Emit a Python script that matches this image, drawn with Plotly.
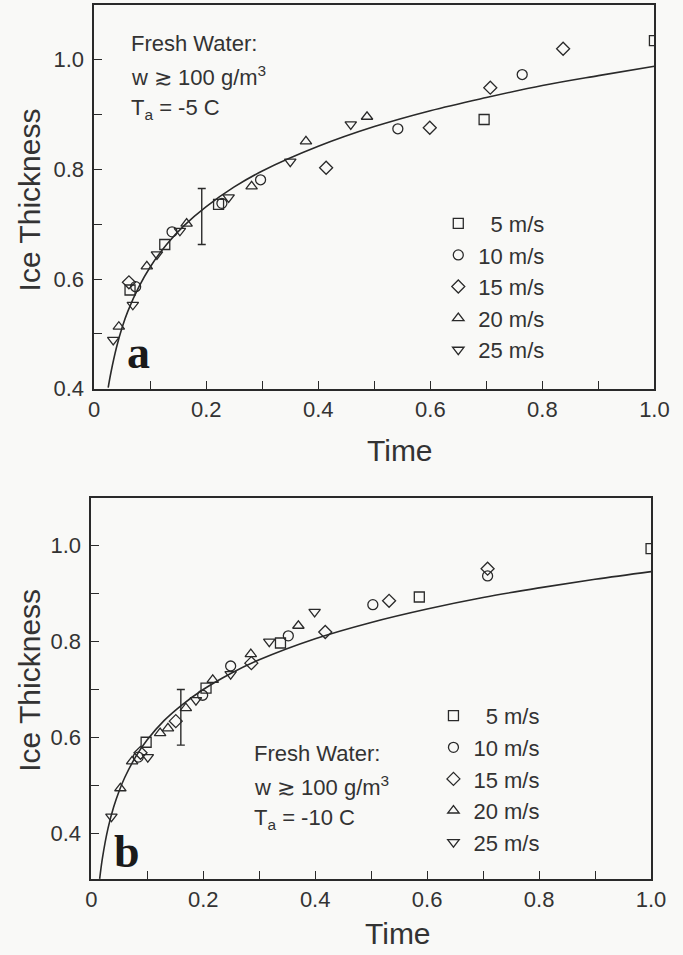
import plotly.graph_objects as go

# ---------------- Panel a (T_a = -5 C) ----------------
a_t_5 = [0.064, 0.126, 0.222, 0.696, 1.000]
a_v_5 = [0.580, 0.663, 0.736, 0.891, 1.035]
a_t_10 = [0.074, 0.139, 0.228, 0.297, 0.542, 0.764]
a_v_10 = [0.586, 0.686, 0.738, 0.781, 0.874, 0.973]
a_t_15 = [0.062, 0.414, 0.599, 0.707, 0.837]
a_v_15 = [0.594, 0.803, 0.876, 0.949, 1.020]
a_t_20 = [0.044, 0.094, 0.165, 0.281, 0.378, 0.487]
a_v_20 = [0.513, 0.623, 0.701, 0.769, 0.851, 0.896]
a_t_25 = [0.034, 0.069, 0.112, 0.153, 0.240, 0.350, 0.458]
a_v_25 = [0.489, 0.553, 0.645, 0.688, 0.749, 0.814, 0.882]

a_curve_t = [0.025, 0.03, 0.04, 0.05, 0.06, 0.08, 0.10, 0.13, 0.16, 0.20, 0.25,
             0.30, 0.40, 0.50, 0.60, 0.70, 0.80, 0.90, 1.00]
a_curve_v = [0.402, 0.430, 0.476, 0.512, 0.541, 0.586, 0.622, 0.664, 0.697, 0.732, 0.768,
             0.797, 0.842, 0.878, 0.907, 0.931, 0.953, 0.971, 0.988]

a_err_t = [0.192]
a_err_v = [0.714]
a_err_half = [0.051]

# ---------------- Panel b (T_a = -10 C) ----------------
b_t_5 = [0.098, 0.205, 0.338, 0.586, 1.000]
b_v_5 = [0.590, 0.703, 0.797, 0.893, 0.994]
b_t_10 = [0.084, 0.199, 0.249, 0.352, 0.503, 0.708]
b_v_10 = [0.559, 0.688, 0.749, 0.812, 0.877, 0.937]
b_t_15 = [0.088, 0.151, 0.286, 0.418, 0.532, 0.708]
b_v_15 = [0.568, 0.634, 0.755, 0.820, 0.885, 0.952]
b_t_20 = [0.052, 0.073, 0.123, 0.137, 0.169, 0.217, 0.285, 0.370]
b_v_20 = [0.494, 0.550, 0.609, 0.619, 0.661, 0.720, 0.774, 0.833]
b_t_25 = [0.036, 0.101, 0.187, 0.249, 0.318, 0.399]
b_v_25 = [0.435, 0.559, 0.678, 0.732, 0.800, 0.862]

b_curve_t = [0.015, 0.02, 0.03, 0.04, 0.05, 0.06, 0.08, 0.10, 0.13, 0.16, 0.20, 0.25,
             0.30, 0.40, 0.50, 0.60, 0.70, 0.80, 0.90, 1.00]
b_curve_v = [0.305, 0.349, 0.411, 0.455, 0.489, 0.517, 0.561, 0.595, 0.635, 0.666, 0.700, 0.734,
             0.762, 0.806, 0.840, 0.868, 0.892, 0.912, 0.930, 0.946]

b_err_t = [0.160]
b_err_v = [0.642]
b_err_half = [0.058]

series_names = ["\u00a0\u00a05 m/s", "10 m/s", "15 m/s", "20 m/s", "25 m/s"]
series_symbols = ["square-open", "circle-open", "diamond-open", "triangle-up-open", "triangle-down-open"]

x_tickvals = [0, 0.2, 0.4, 0.6, 0.8, 1.0]
x_ticktext = ["0", "0.2", "0.4", "0.6", "0.8", "1.0"]
y_tickvals = [0.4, 0.6, 0.8, 1.0]
y_ticktext = ["0.4", "0.6", "0.8", "1.0"]

INK = "#2a2a2a"
FONT = "Liberation Sans"
BG = "#f9f9f7"

fig = go.Figure()

panels = [
    ("x", "y", "legend",
     [(a_t_5, a_v_5), (a_t_10, a_v_10), (a_t_15, a_v_15), (a_t_20, a_v_20), (a_t_25, a_v_25)],
     (a_curve_t, a_curve_v), (a_err_t, a_err_v, a_err_half)),
    ("x2", "y2", "legend2",
     [(b_t_5, b_v_5), (b_t_10, b_v_10), (b_t_15, b_v_15), (b_t_20, b_v_20), (b_t_25, b_v_25)],
     (b_curve_t, b_curve_v), (b_err_t, b_err_v, b_err_half)),
]

for xa, ya, lg, series, curve, err in panels:
    fig.add_trace(go.Scatter(x=curve[0], y=curve[1], mode="lines",
                             line=dict(color=INK, width=1.6, shape="spline"),
                             xaxis=xa, yaxis=ya, showlegend=False, hoverinfo="skip"))
    fig.add_trace(go.Scatter(x=err[0], y=err[1], mode="markers",
                             marker=dict(size=1, color="rgba(0,0,0,0)"),
                             error_y=dict(type="data", array=err[2], color=INK,
                                          thickness=1.4, width=4),
                             xaxis=xa, yaxis=ya, showlegend=False, hoverinfo="skip"))
    for (tt, vv), name, sym in zip(series, series_names, series_symbols):
        fig.add_trace(go.Scatter(x=tt, y=vv, mode="markers", name=name,
                                 marker=dict(symbol=sym, size=10, color=INK,
                                             line=dict(width=1.3, color=INK)),
                                 xaxis=xa, yaxis=ya, legend=lg))

axis_common = dict(showline=True, linecolor=INK, linewidth=1.5, mirror=True,
                   ticks="inside", ticklen=8, tickwidth=1.3, tickcolor=INK,
                   showgrid=False, zeroline=False,
                   tickfont=dict(family=FONT, size=22, color="#333"),
                   minor=dict(ticks="inside", ticklen=8, tickwidth=1.3, tickcolor=INK, dtick=0.1,
                              showgrid=False))

fig.update_layout(
    width=683, height=955,
    margin=dict(l=0, r=0, t=0, b=0),
    paper_bgcolor=BG, plot_bgcolor=BG,
    xaxis=dict(domain=[0.1332, 0.9795], range=[0, 1.0], anchor="y",
               tickvals=x_tickvals, ticktext=x_ticktext, ticklabelstandoff=0, **axis_common),
    yaxis=dict(domain=[0.5874, 0.9948], range=[0.4, 1.1], anchor="x",
               tickvals=y_tickvals, ticktext=y_ticktext, ticklabelstandoff=4, **axis_common),
    xaxis2=dict(domain=[0.1288, 0.9744], range=[0, 1.0], anchor="y2",
                tickvals=x_tickvals, ticktext=x_ticktext, ticklabelstandoff=0, **axis_common),
    yaxis2=dict(domain=[0.067, 0.4716], range=[0.305, 1.1], anchor="x2",
                tickvals=y_tickvals, ticktext=y_ticktext, ticklabelstandoff=4, **axis_common),
    legend=dict(x=0.653, y=0.785, xanchor="left", yanchor="top",
                bgcolor="rgba(0,0,0,0)", font=dict(family=FONT, size=22, color="#333"),
                tracegroupgap=0, itemwidth=30),
    legend2=dict(x=0.6457, y=0.2623, xanchor="left", yanchor="top",
                 bgcolor="rgba(0,0,0,0)", font=dict(family=FONT, size=22, color="#333"),
                 tracegroupgap=0, itemwidth=30),
)

def txt(text, x, y, size=22, xanchor="left", family=FONT, angle=0, color="#333"):
    fig.add_annotation(text=text, x=x, y=y, xref="paper", yref="paper",
                       xanchor=xanchor, yanchor="middle", showarrow=False,
                       textangle=angle, font=dict(family=family, size=size, color=color))

# panel a inset text
txt("Fresh Water:", 0.1855, 0.954)
txt("w \u2273 100 g/m<sup>3</sup>", 0.1855, 0.9195)
txt("T<sub>a</sub> = -5 C", 0.1855, 0.8845)
# panel b inset text
txt("Fresh Water:", 0.372, 0.2005)
txt("w \u2273 100 g/m<sup>3</sup>", 0.372, 0.1655)
txt("T<sub>a</sub> = -10 C", 0.372, 0.1305)

# panel letters
txt("<b>a</b>", 0.2006, 0.626, size=46, xanchor="center", family="Liberation Serif", color="#1a1a1a")
txt("<b>b</b>", 0.183, 0.096, size=46, xanchor="center", family="Liberation Serif", color="#1a1a1a")

# axis titles
txt("Ice Thickness", 0.035, 0.7874, size=30, xanchor="center", angle=-90)
txt("Ice Thickness", 0.035, 0.2775, size=30, xanchor="center", angle=-90)
txt("Time", 0.595, 0.5215, size=30, xanchor="center")
txt("Time", 0.592, 0.0095, size=30, xanchor="center")

post = ("document.body.style.margin='0px';"
        "document.body.style.overflow='hidden';")

fig.write_html("out.html", config={"displayModeBar": False}, post_script=post)
